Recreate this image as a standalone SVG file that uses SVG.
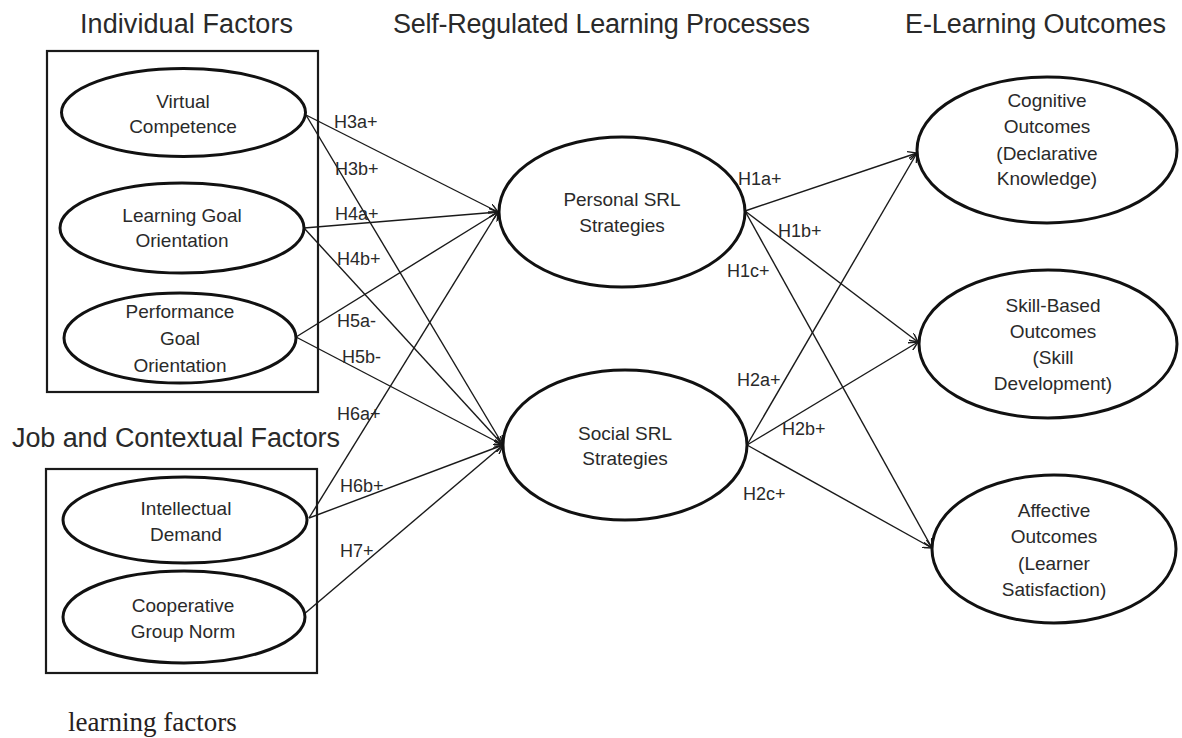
<svg xmlns="http://www.w3.org/2000/svg" width="1182" height="738" viewBox="0 0 1182 738">
<style>
.bg{fill:#ffffff}
.box{fill:none;stroke:#1a1a1a;stroke-width:2.2}
.node{fill:#ffffff;stroke:#111111;stroke-width:3}
.title{font-family:"Liberation Sans",Arial,sans-serif;font-size:27px;fill:#2a2a2a}
.nt{font-family:"Liberation Sans",Arial,sans-serif;font-size:19px;fill:#2a2a2a;text-anchor:middle}
.lbl{font-family:"Liberation Sans",Arial,sans-serif;font-size:18px;fill:#2a2a2a}
.edge{fill:none;stroke:#1a1a1a;stroke-width:1.4;marker-end:url(#arr)}
.cap{font-family:"Liberation Serif","Times New Roman",serif;font-size:27px;fill:#262020}
</style>
<defs>
<marker id="arr" viewBox="0 0 10 10" refX="10" refY="5" markerWidth="9" markerHeight="9" markerUnits="userSpaceOnUse" orient="auto">
<path d="M0,0 L10,5 L0,10" fill="none" stroke="#1a1a1a" stroke-width="1.6"/>
</marker>
</defs>
<rect class="bg" x="0" y="0" width="1182" height="738"/>

<g id="titles">
<text class="title" x="80" y="33" textLength="213">Individual Factors</text>
<text class="title" x="393" y="33" textLength="417">Self-Regulated Learning Processes</text>
<text class="title" x="905" y="33" textLength="261">E-Learning Outcomes</text>
<text class="title" x="12" y="447" textLength="328">Job and Contextual Factors</text>
<text class="cap" x="68" y="731">learning factors</text>
</g>

<g id="group-boxes">
<rect id="individual-box" class="box" x="47" y="51" width="271" height="341"/>
<rect id="job-box" class="box" x="46" y="469" width="271" height="204"/>
</g>

<g id="connectors">
<line class="edge" x1="306" y1="115" x2="498" y2="212"/>
<line class="edge" x1="306" y1="115" x2="503" y2="445"/>
<line class="edge" x1="304" y1="228" x2="498" y2="212"/>
<line class="edge" x1="304" y1="228" x2="503" y2="445"/>
<line class="edge" x1="296" y1="337" x2="498" y2="212"/>
<line class="edge" x1="296" y1="337" x2="503" y2="445"/>
<line class="edge" x1="309" y1="518" x2="498" y2="212"/>
<line class="edge" x1="309" y1="518" x2="503" y2="445"/>
<line class="edge" x1="303" y1="615" x2="503" y2="445"/>
<line class="edge" x1="745" y1="211" x2="917" y2="153"/>
<line class="edge" x1="745" y1="211" x2="918" y2="342"/>
<line class="edge" x1="745" y1="211" x2="932" y2="548"/>
<line class="edge" x1="747" y1="445" x2="917" y2="153"/>
<line class="edge" x1="747" y1="445" x2="918" y2="342"/>
<line class="edge" x1="747" y1="445" x2="932" y2="548"/>
</g>

<g id="edge-labels">
<text class="lbl" x="334" y="128">H3a+</text>
<text class="lbl" x="335" y="175">H3b+</text>
<text class="lbl" x="335" y="220">H4a+</text>
<text class="lbl" x="337" y="265">H4b+</text>
<text class="lbl" x="337" y="327">H5a-</text>
<text class="lbl" x="342" y="363">H5b-</text>
<text class="lbl" x="337" y="420">H6a+</text>
<text class="lbl" x="340" y="492">H6b+</text>
<text class="lbl" x="340" y="557">H7+</text>
<text class="lbl" x="738" y="185">H1a+</text>
<text class="lbl" x="778" y="237">H1b+</text>
<text class="lbl" x="727" y="277">H1c+</text>
<text class="lbl" x="737" y="386">H2a+</text>
<text class="lbl" x="782" y="435">H2b+</text>
<text class="lbl" x="743" y="500">H2c+</text>
</g>

<g id="virtual-competence">
<ellipse class="node" cx="183.5" cy="112.5" rx="122" ry="44"/>
<text class="nt" x="183" y="108">Virtual</text>
<text class="nt" x="183" y="133">Competence</text>
</g>
<g id="learning-goal-orientation">
<ellipse class="node" cx="182" cy="228" rx="122" ry="45"/>
<text class="nt" x="182" y="222">Learning Goal</text>
<text class="nt" x="182" y="247">Orientation</text>
</g>
<g id="performance-goal-orientation">
<ellipse class="node" cx="180" cy="338" rx="116" ry="45"/>
<text class="nt" x="180" y="318">Performance</text>
<text class="nt" x="180" y="345">Goal</text>
<text class="nt" x="180" y="372">Orientation</text>
</g>
<g id="intellectual-demand">
<ellipse class="node" cx="185" cy="520" rx="122" ry="43"/>
<text class="nt" x="186" y="515">Intellectual</text>
<text class="nt" x="186" y="541">Demand</text>
</g>
<g id="cooperative-group-norm">
<ellipse class="node" cx="184" cy="617" rx="121" ry="46"/>
<text class="nt" x="183" y="612">Cooperative</text>
<text class="nt" x="183" y="638">Group Norm</text>
</g>
<g id="personal-srl">
<ellipse class="node" cx="622" cy="212" rx="123" ry="75"/>
<text class="nt" x="622" y="206">Personal SRL</text>
<text class="nt" x="622" y="232">Strategies</text>
</g>
<g id="social-srl">
<ellipse class="node" cx="625" cy="445" rx="122" ry="75"/>
<text class="nt" x="625" y="440">Social SRL</text>
<text class="nt" x="625" y="465">Strategies</text>
</g>
<g id="cognitive-outcomes">
<ellipse class="node" cx="1047" cy="150" rx="130" ry="73"/>
<text class="nt" x="1047" y="107">Cognitive</text>
<text class="nt" x="1047" y="133">Outcomes</text>
<text class="nt" x="1047" y="160">(Declarative</text>
<text class="nt" x="1047" y="185">Knowledge)</text>
</g>
<g id="skill-based-outcomes">
<ellipse class="node" cx="1048" cy="344" rx="129" ry="74"/>
<text class="nt" x="1053" y="312">Skill-Based</text>
<text class="nt" x="1053" y="338">Outcomes</text>
<text class="nt" x="1053" y="364">(Skill</text>
<text class="nt" x="1053" y="390">Development)</text>
</g>
<g id="affective-outcomes">
<ellipse class="node" cx="1054" cy="549" rx="122" ry="74"/>
<text class="nt" x="1054" y="517">Affective</text>
<text class="nt" x="1054" y="543">Outcomes</text>
<text class="nt" x="1054" y="570">(Learner</text>
<text class="nt" x="1054" y="596">Satisfaction)</text>
</g>
</svg>
